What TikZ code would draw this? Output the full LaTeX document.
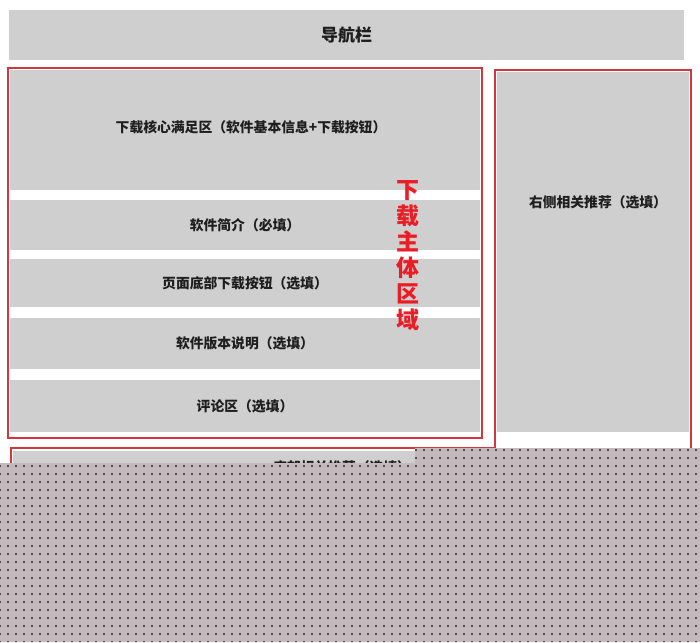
\documentclass[tikz,border=0pt]{standalone}
\usepackage{fontspec}
\newfontfamily\cjk{Noto Sans CJK SC}
\usetikzlibrary{patterns.meta}
\definecolor{blockgray}{RGB}{207,207,207}
\definecolor{framered}{RGB}{210,55,62}
\definecolor{txtdark}{RGB}{30,30,30}
\definecolor{labelred}{RGB}{236,28,36}
\definecolor{checkbg}{RGB}{196,185,189}
\definecolor{checkdot}{RGB}{50,44,47}
\begin{document}
\begin{tikzpicture}[x=1pt,y=-1pt,
  block/.style={fill=blockgray, draw=none, inner sep=0pt, text=txtdark,
    font=\cjk\bfseries\fontsize{13.8}{16}\selectfont},
  blocktext/.style={inner sep=0pt, text=txtdark,
    font=\cjk\bfseries\fontsize{13.8}{16}\selectfont},
  redframe/.style={draw=framered, line width=2.2pt, fill=none, inner sep=0pt},
  bigred/.style={inner sep=0pt, text=labelred, align=center,
    font=\cjk\bfseries\fontsize{23}{26}\selectfont}]
\useasboundingbox (0,0) rectangle (700,642);
\fill[white] (0,0) rectangle (700,642);

% navigation bar
\node (nav) [block, minimum width=675pt, minimum height=50pt,
  font=\cjk\bfseries\fontsize{17}{19}\selectfont] at (346.5,35) {导航栏};

% main column blocks
\node (core) [block, minimum width=470pt, minimum height=120pt] at (245,130) {};
\node (coretext) [blocktext] at (251,127) {下载核心满足区（软件基本信息+下载按钮）};
\node (intro) [block, minimum width=470pt, minimum height=50pt] at (245,225) {软件简介（必填）};
\node (btn) [block, minimum width=470pt, minimum height=48pt] at (245,283) {页面底部下载按钮（选填）};
\node (ver) [block, minimum width=470pt, minimum height=51pt] at (245,343.5) {软件版本说明（选填）};
\node (cmt) [block, minimum width=470pt, minimum height=52pt] at (245,406) {评论区（选填）};
\node (mainframe) [redframe, minimum width=474pt, minimum height=370pt] at (245,253) {};

% label
\node (mainlabel) [bigred] at (408,256) {下\\载\\主\\体\\区\\域};

% right column
\node (side) [block, minimum width=192pt, minimum height=360pt] at (593,252) {};
\node (sidetext) [blocktext] at (598,202) {右侧相关推荐（选填）};
\node (sideframe) [redframe, minimum width=196pt, minimum height=420pt] at (593,280) {};

% bottom block
\node (bottom) [block, minimum width=480pt, minimum height=60pt] at (253,481) {};
\node (bottomtext) [blocktext] at (342,467) {底部相关推荐（选填）};
\node (bottomframe) [redframe, minimum width=484pt, minimum height=64pt] at (253,480) {};

% transparent (checker) region
\fill[checkbg] (0,463) -- (415,463) -- (415,448) -- (700,448) -- (700,642) -- (0,642) -- cycle;
\fill[pattern={Dots[radius=1.15pt, distance=8pt]}, pattern color=checkdot]
  (0,463) -- (415,463) -- (415,448) -- (700,448) -- (700,642) -- (0,642) -- cycle;
\end{tikzpicture}
\end{document}
